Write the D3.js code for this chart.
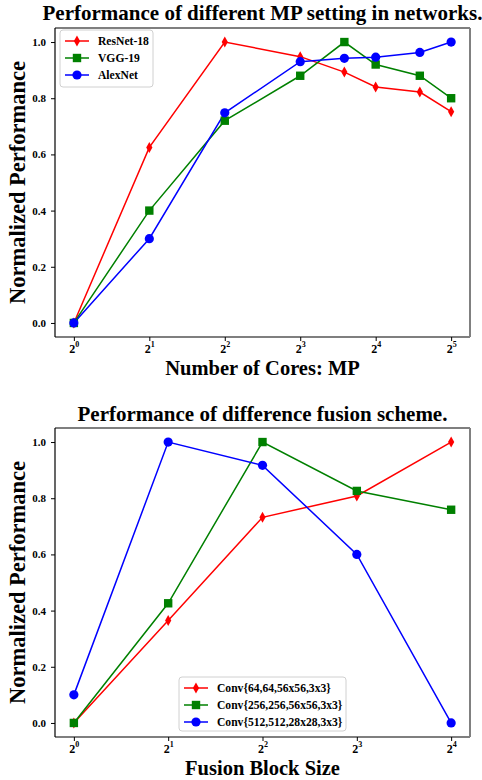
<!DOCTYPE html>
<html><head><meta charset="utf-8">
<script src="https://cdn.jsdelivr.net/npm/d3@7"></script>
<style>body{margin:0;background:#fff}svg{display:block}text{font-family:"Liberation Serif","Times New Roman",serif;font-weight:bold}</style>
</head><body><svg id="c" width="482" height="780"></svg>
<script>
// ---- Data: top chart ----
const coresX = [1, 2, 4, 8, 12, 16, 24, 32];
const resnet18 = [0.0, 0.625, 1.0, 0.948, 0.893, 0.84, 0.822, 0.752];
const vgg19 = [0.0, 0.40, 0.72, 0.88, 1.0, 0.92, 0.88, 0.80];
const alexnet = [0.0, 0.30, 0.748, 0.93, 0.942, 0.946, 0.963, 1.0];
const topExponents = [0, 1, 2, 3, 4, 5];
const topNames = ["ResNet-18", "VGG-19", "AlexNet"];
// ---- Data: bottom chart ----
const fusionX = [1, 2, 4, 8, 16];
const conv64 = [0.0, 0.365, 0.732, 0.808, 1.0];
const conv256 = [0.0, 0.426, 1.0, 0.826, 0.759];
const conv512 = [0.1, 1.0, 0.917, 0.60, 0.0];
const bottomExponents = [0, 1, 2, 3, 4];
const bottomNames = ["Conv{64,64,56x56,3x3}", "Conv{256,256,56x56,3x3}", "Conv{512,512,28x28,3x3}"];
const yTicks = [0.0, 0.2, 0.4, 0.6, 0.8, 1.0];
const colors = ["#ff0000", "#008000", "#0000ff"];
const markers = ["thindiamond", "square", "circle"];

const svg = d3.select("#c");

function drawMarker(g, type, color) {
  if (type === "circle") g.append("circle").attr("r", 4.6).attr("fill", color);
  else if (type === "square") g.append("rect").attr("x", -4.2).attr("y", -4.2).attr("width", 8.4).attr("height", 8.4).attr("fill", color);
  else g.append("path").attr("d", "M0,-5.5L3.1,0L0,5.5L-3.1,0Z").attr("fill", color);
}

function chart(opts) {
  const {left, right, top, bottom, xDomainExp, xs, series, names, exps, title, titleGap, xlabel, xlabelGap, legend} = opts;
  const x = d3.scaleLog().base(2).domain([Math.pow(2, xDomainExp[0]), Math.pow(2, xDomainExp[1])]).range([left, right]);
  const y = d3.scaleLinear().domain([-0.05, 1.05]).range([bottom, top]);
  const g = svg.append("g");

  // y axis
  const ya = g.append("g").attr("transform", `translate(${left},0)`)
    .call(d3.axisLeft(y).tickValues(yTicks).tickFormat(d3.format(".1f")).tickSizeOuter(0).tickSize(4).tickPadding(5));
  ya.select(".domain").remove();
  ya.selectAll("text").attr("font-size", 11).attr("font-family", "Liberation Serif").attr("font-weight", "bold").attr("fill", "#000");
  ya.selectAll("line").attr("stroke", "#000");

  // x axis
  const xa = g.append("g").attr("transform", `translate(0,${bottom})`)
    .call(d3.axisBottom(x).tickValues(exps.map(e => Math.pow(2, e))).tickFormat("").tickSizeOuter(0).tickSize(4));
  xa.select(".domain").remove();
  xa.selectAll("line").attr("stroke", "#000");
  xa.selectAll(".tick").each(function(d, i) {
    const t = d3.select(this).append("text").attr("y", 16).attr("fill", "#000").attr("text-anchor", "middle").attr("font-size", 12);
    t.append("tspan").text("2");
    t.append("tspan").attr("dy", -6).attr("font-size", 8).text(String(exps[i]));
  });

  // frame
  g.append("line").attr("x1", left).attr("x2", right).attr("y1", top).attr("y2", top).attr("stroke", "#000").attr("stroke-width", 1.2);
  g.append("line").attr("x1", left).attr("x2", right).attr("y1", bottom).attr("y2", bottom).attr("stroke", "#000").attr("stroke-width", 1.2);
  g.append("line").attr("x1", left).attr("x2", left).attr("y1", top).attr("y2", bottom).attr("stroke", "#000").attr("stroke-width", 1.2);
  g.append("line").attr("x1", right).attr("x2", right).attr("y1", top).attr("y2", bottom).attr("stroke", "#808080").attr("stroke-width", 2);

  // lines
  const line = d3.line().x((d, i) => x(xs[i])).y(d => y(d));
  series.forEach((s, k) => {
    g.append("path").attr("d", line(s)).attr("fill", "none").attr("stroke", colors[k]).attr("stroke-width", 1.5);
  });
  series.forEach((s, k) => {
    s.forEach((v, i) => {
      const m = g.append("g").attr("transform", `translate(${x(xs[i])},${y(v)})`);
      drawMarker(m, markers[k], colors[k]);
    });
  });

  // title and labels
  g.append("text").attr("x", (left + right) / 2).attr("y", top - titleGap).attr("text-anchor", "middle").attr("font-size", 21).text(title);
  g.append("text").attr("x", (left + right) / 2).attr("y", bottom + xlabelGap).attr("text-anchor", "middle").attr("font-size", 20.5).text(xlabel);
  g.append("text").attr("transform", `translate(25,${(top + bottom) / 2}) rotate(-90)`).attr("text-anchor", "middle").attr("font-size", 22.5).text("Normalized Performance");

  // legend
  const lg = g.append("g").attr("transform", `translate(${legend.x},${legend.y})`);
  lg.append("rect").attr("x", 0).attr("y", 0).attr("width", legend.w).attr("height", legend.h).attr("rx", 3)
    .attr("fill", "#fff").attr("stroke", "#d0d0d0").attr("stroke-width", 1);
  names.forEach((n, k) => {
    const yy = 11 + k * legend.dy;
    lg.append("line").attr("x1", 5).attr("x2", 29).attr("y1", yy).attr("y2", yy).attr("stroke", colors[k]).attr("stroke-width", 1.5);
    const m = lg.append("g").attr("transform", `translate(17,${yy})`);
    drawMarker(m, markers[k], colors[k]);
    lg.append("text").attr("x", 38).attr("y", yy + 4).attr("font-size", 11.6).attr("fill", "#000").text(n);
  });
}

chart({left: 55, right: 470, top: 28, bottom: 337, xDomainExp: [-0.25, 5.25], xs: coresX,
  series: [resnet18, vgg19, alexnet], names: topNames, exps: topExponents,
  title: "Performance of different MP setting in networks.", titleGap: 8,
  xlabel: "Number of Cores: MP", xlabelGap: 38,
  legend: {x: 60, y: 30, w: 93, h: 57, dy: 17}});

chart({left: 55, right: 470, top: 428, bottom: 737, xDomainExp: [-0.2, 4.2], xs: fusionX,
  series: [conv64, conv256, conv512], names: bottomNames, exps: bottomExponents,
  title: "Performance of difference fusion scheme.", titleGap: 7,
  xlabel: "Fusion Block Size", xlabelGap: 38,
  legend: {x: 179, y: 677, w: 167, h: 54, dy: 17}});
</script></body></html>
